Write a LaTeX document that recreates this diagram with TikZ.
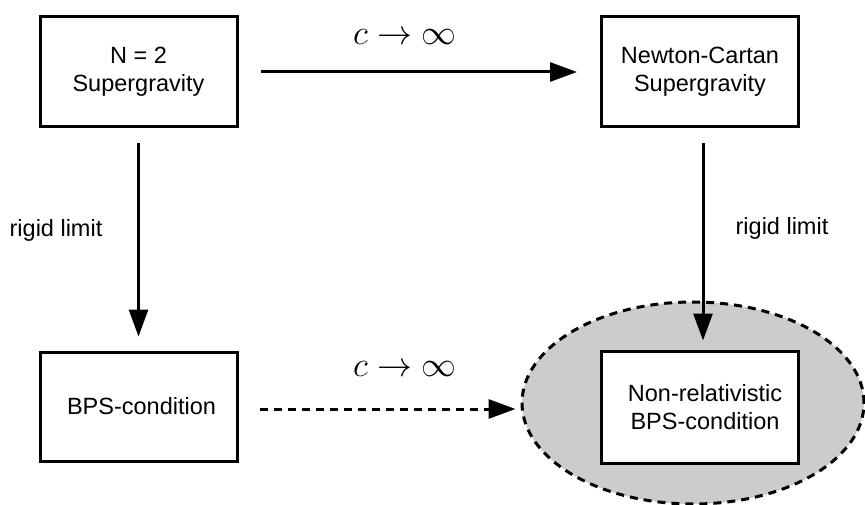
\documentclass[tikz,border=0pt]{standalone}
\usepackage{fontspec}
\setmainfont{Liberation Sans}
\usetikzlibrary{arrows.meta,shapes.geometric}
\begin{document}
\begin{tikzpicture}[x=1pt,y=-1pt,
  box/.style={draw,line width=3pt,fill=white,minimum width=197pt,minimum height=110pt,inner sep=0pt,align=center,font=\fontsize{23.5}{28}\selectfont},
  arr/.style={line width=3pt,-{Triangle[length=27pt,width=19pt]}},
  lbl/.style={font=\fontsize{23.5}{28}\selectfont,inner sep=0pt},
  mlbl/.style={font=\Huge,inner sep=0pt}]
\useasboundingbox (0,0) rectangle (865,505);
\node[ellipse,draw,dash pattern=on 8pt off 6pt,line width=3pt,fill=black!20,minimum width=342pt,minimum height=202pt,inner sep=0pt] (ell) at (693,403) {};
\node[box] (b1) at (138.5,72) {N = 2\\Supergravity};
\node[box] (b2) at (700,72) {Newton-Cartan\\Supergravity};
\node[box,minimum height=109pt] (b3) at (138.5,406.5) {\hspace*{6pt}BPS-condition};
\node[box,minimum height=112pt] (b4) at (700,407) {\hspace*{10pt}Non-relativistic\\\hspace*{10pt}BPS-condition};
\draw[arr,shorten <=22pt,shorten >=23pt] (b1.east) -- (b2.west);
\draw[arr,dash pattern=on 8pt off 6pt,shorten <=21pt,shorten >=5pt] (b3.east |- 0,409) -- (ell.west |- 0,409);
\draw[arr,shorten <=15pt,shorten >=14pt] (b1.south) -- (b3.north);
\draw[arr,shorten <=15pt,shorten >=9pt] ([xshift=3pt]b2.south) -- ([xshift=3pt]b4.north);
\node[mlbl] (t1) at (405,37) {\scalebox{1.4}{$c\to\infty$}};
\node[mlbl] (t2) at (405,369) {\scalebox{1.4}{$c\to\infty$}};
\node[lbl] (r1) at (56,230) {rigid limit};
\node[lbl] (r2) at (782,228) {rigid limit};
\end{tikzpicture}
\end{document}
